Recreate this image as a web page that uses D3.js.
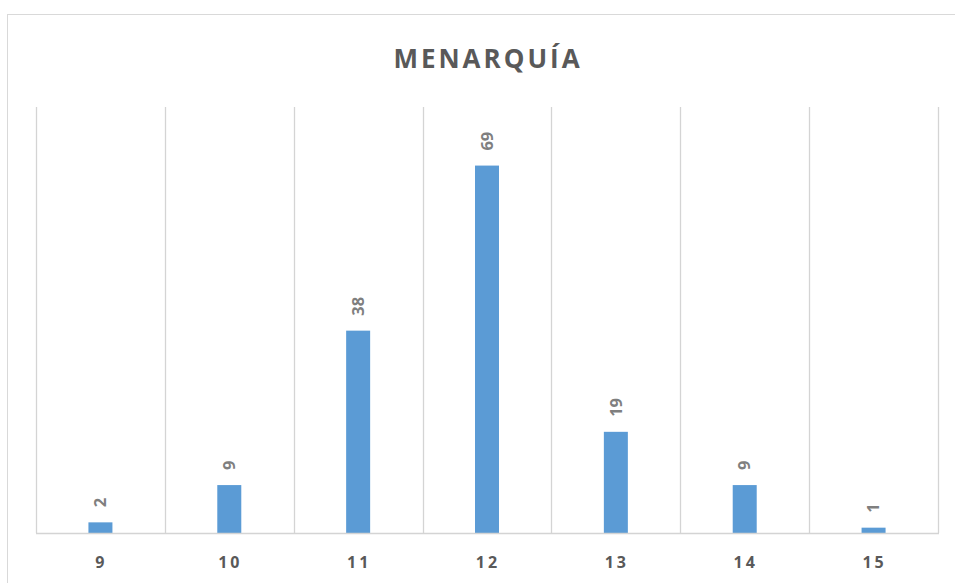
<!DOCTYPE html>
<html>
<head>
<meta charset="utf-8">
<script src="https://cdn.jsdelivr.net/npm/d3@7"></script>
<style>
  body { margin: 0; background: #fff; }
  text { font-family: "Open Sans", "Liberation Sans", sans-serif; fill: #595959; }
</style>
</head>
<body>
<div id="chart"></div>
<script>
// data
const ages = ["9", "10", "11", "12", "13", "14", "15"];
const counts = [2, 9, 38, 69, 19, 9, 1];
const title = "MENARQUÍA";

const svgWidth = 955, svgHeight = 583;
const plot = {left: 36, right: 938, top: 107, bottom: 533};

var svg = d3.select("#chart").append("svg")
  .attr("width", svgWidth)
  .attr("height", svgHeight);

// chart border
svg.append("rect")
  .attr("x", 7.5).attr("y", 14.5)
  .attr("width", 960).attr("height", 580)
  .attr("fill", "none")
  .attr("stroke", "#d9d9d9");

svg.append("text")
  .text(title)
  .attr("x", 488)
  .attr("y", 68)
  .attr("text-anchor", "middle")
  .style("font-size", "26px")
  .style("font-weight", "bold")
  .style("letter-spacing", "3px");

var x = d3.scaleBand()
  .domain(ages)
  .range([plot.left, plot.right])
  .paddingInner(0)
  .paddingOuter(0);

var y = d3.scaleLinear()
  .domain([0, 80])
  .range([plot.bottom, plot.top]);

// vertical gridlines at category boundaries
var bounds = ages.map(function(d) { return x(d) }).concat([plot.right]);
svg.selectAll(".grid")
  .data(bounds)
  .enter().append("line")
    .attr("class", "grid")
    .attr("x1", function(d) { return Math.round(d) + 0.5 })
    .attr("x2", function(d) { return Math.round(d) + 0.5 })
    .attr("y1", plot.top)
    .attr("y2", plot.bottom)
    .attr("stroke", "#d4d4d4")
    .attr("stroke-width", 1.3);

var barWidth = 24;
svg.selectAll(".bar")
  .data(counts)
  .enter().append("rect")
    .attr("class", "bar")
    .attr("fill", "#5b9bd5")
    .attr("x", function(d, i) { return x(ages[i]) + x.bandwidth() / 2 - barWidth / 2 })
    .attr("width", barWidth)
    .attr("y", function(d) { return y(d) })
    .attr("height", function(d) { return y(0) - y(d) });

// baseline
svg.append("line")
  .attr("x1", plot.left).attr("x2", plot.right + 1)
  .attr("y1", plot.bottom + 0.5).attr("y2", plot.bottom + 0.5)
  .attr("stroke", "#d4d4d4")
  .attr("stroke-width", 1.3);

// x axis labels
var xAxis = d3.axisBottom(x).tickSize(0).tickPadding(0);
var gx = svg.append("g")
  .attr("transform", "translate(0," + (plot.bottom + 35) + ")")
  .call(xAxis);
gx.select(".domain").remove();
gx.selectAll("text")
  .attr("dy", 0)
  .attr("dx", "1px")
  .style("font-size", "16px")
  .style("font-weight", "bold")
  .style("letter-spacing", "3px")
  .style("fill", "#595959");

// value labels, rotated
svg.selectAll(".label")
  .data(counts)
  .enter().append("text")
    .attr("class", "label")
    .text(function(d) { return d })
    .attr("transform", function(d, i) {
      return "translate(" + (x(ages[i]) + x.bandwidth() / 2) + "," + (y(d) - 15) + ") rotate(-90)";
    })
    .attr("dy", "0.35em")
    .style("font-size", "16.5px")
    .style("font-weight", "bold")
    .style("fill", "#7f7f7f");
</script>
</body>
</html>
